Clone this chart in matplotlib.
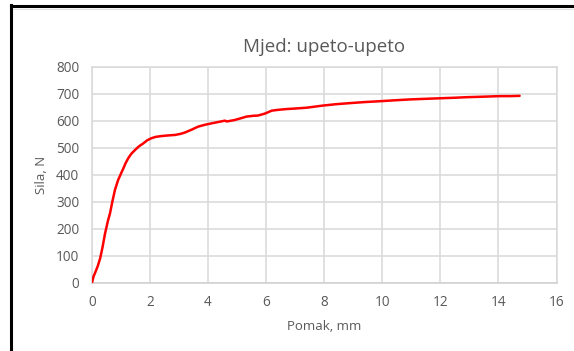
import matplotlib
matplotlib.use("Agg")
import matplotlib.pyplot as plt
from matplotlib.lines import Line2D

# Force–displacement curve
pomak_mm = [0.0, 0.05, 0.1, 0.2, 0.28, 0.36, 0.45, 0.55, 0.62, 0.7, 0.79, 0.9,
            1.0, 1.08, 1.16, 1.25, 1.36, 1.48, 1.62, 1.77, 1.9, 2.05, 2.2,
            2.4, 2.6, 2.86, 3.05, 3.2, 3.42, 3.66, 3.9, 4.12, 4.35, 4.58, 4.64,
            4.9, 5.1, 5.32, 5.55, 5.72, 5.95, 6.19, 6.4, 6.7, 7.0, 7.39,
            7.96, 8.4, 8.88, 9.4, 9.9, 10.5, 11.0, 11.5, 11.98, 12.5, 12.9,
            13.5, 14.04, 14.4, 14.73]
sila_n = [0, 22, 35, 62, 90, 130, 183, 230, 257, 300, 344, 381,
          405, 424, 444, 462, 479, 492, 506, 517, 528, 536, 541,
          544, 546, 548, 552, 557, 567, 579, 586, 591, 596, 601, 598,
          603, 609, 616, 619, 620, 627, 638, 641, 644, 646, 649,
          657, 662, 666, 670, 673, 677, 680, 682, 684, 686, 688,
          690, 692, 692, 693]

x_ticks = [0, 2, 4, 6, 8, 10, 12, 14, 16]
y_ticks = [0, 100, 200, 300, 400, 500, 600, 700, 800]

title = "Mjed: upeto-upeto"
x_label = "Pomak, mm"
y_label = "Sila, N"

plt.rcParams["font.family"] = ["Open Sans", "DejaVu Sans"]
text_grey = "#595959"
grid_grey = "#d9d9d9"

fig = plt.figure(figsize=(5.74, 3.51), dpi=100)
fig.patch.set_facecolor("white")

# black frame on top and left edge
fig.add_artist(Line2D([10.5 / 574, 1.0], [1 - 6 / 351, 1 - 6 / 351],
                      transform=fig.transFigure, color="black", lw=2.2))
fig.add_artist(Line2D([11 / 574, 11 / 574], [0.0, 1 - 5 / 351],
                      transform=fig.transFigure, color="black", lw=2.2))
# thin grey chart-area border
fig.add_artist(Line2D([13 / 574, 1.0], [1 - 9 / 351, 1 - 9 / 351],
                      transform=fig.transFigure, color="#e0e0e0", lw=0.8))

ax = fig.add_axes([92 / 574, 1 - 282.7 / 351, (556.5 - 92) / 574, (282.7 - 67) / 351])
ax.plot(pomak_mm, sila_n, color="#ff0000", lw=1.8, solid_capstyle="round",
        solid_joinstyle="round", zorder=3)

ax.set_xlim(0, 16)
ax.set_ylim(0, 800)
ax.set_xticks(x_ticks)
ax.set_yticks(y_ticks)
ax.grid(True, color=grid_grey, lw=1.1)
ax.set_axisbelow(True)
for s in ax.spines.values():
    s.set_color(grid_grey)
    s.set_linewidth(1.1)
ax.spines["bottom"].set_color("#cfcfcf")
ax.tick_params(length=0, labelsize=9.8, labelcolor=text_grey)
ax.tick_params(axis="y", pad=9)
ax.tick_params(axis="x", pad=9)

ax.set_title(title, fontsize=13.5, color=text_grey, pad=11)
ax.set_xlabel(x_label, fontsize=9.5, color=text_grey, labelpad=7)
ax.set_ylabel(y_label, fontsize=9.5, color=text_grey, labelpad=6)

fig.savefig("out.png", dpi=100, facecolor="white")
